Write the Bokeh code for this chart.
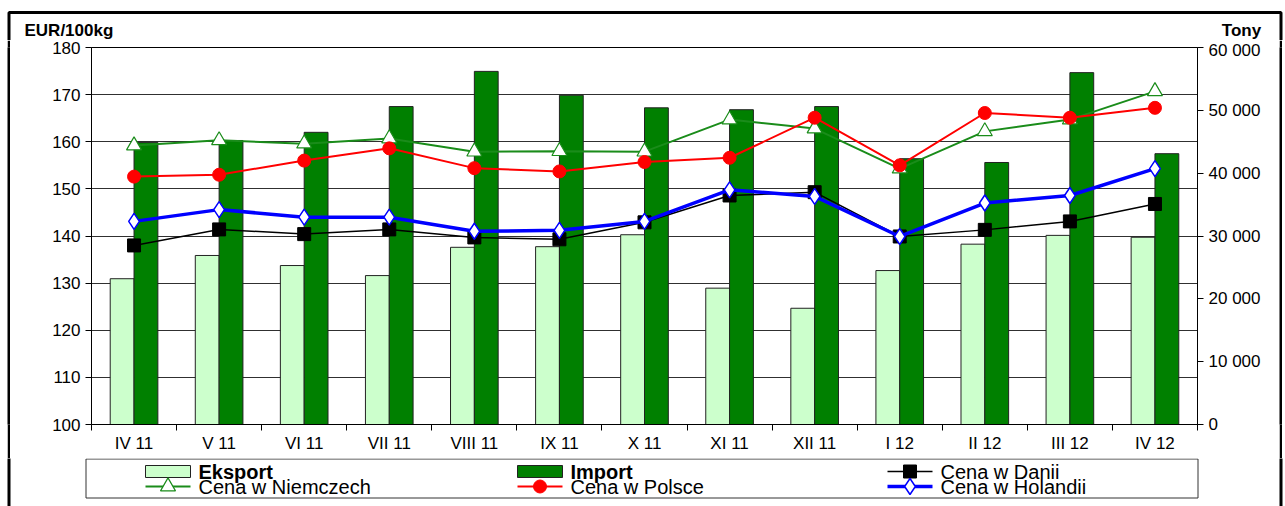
import numpy as np
from bokeh.plotting import figure
from bokeh.layouts import column, row
from bokeh.models import Range1d, LinearAxis, FixedTicker, Spacer
from bokeh.core.properties import value
from bokeh.embed import file_html
from bokeh.resources import INLINE

months = ["IV 11", "V 11", "VI 11", "VII 11", "VIII 11", "IX 11", "X 11",
          "XI 11", "XII 11", "I 12", "II 12", "III 12", "IV 12"]
eksport = [23200, 26900, 25300, 23700, 28200, 28300, 30200, 21700, 18500,
           24500, 28700, 30100, 29800]
importt = [44900, 45200, 46500, 50600, 56200, 52400, 50400, 50100, 50600,
           42300, 41700, 56000, 43100]
cena_dania = [138.0, 141.4, 140.4, 141.4, 139.7, 139.3, 142.9, 148.6, 149.3,
              139.9, 141.3, 143.1, 146.8]
cena_niemcy = [159.2, 160.3, 159.6, 160.7, 157.9, 158.0, 157.9, 164.7, 162.8,
               154.3, 162.2, 164.7, 170.7]
cena_polska = [152.6, 153.0, 156.0, 158.6, 154.4, 153.7, 155.7, 156.6, 165.1,
               155.0, 166.1, 165.1, 167.2]
cena_holandia = [143.1, 145.6, 144.0, 144.0, 141.0, 141.2, 143.1, 149.8, 148.4,
                 139.9, 147.0, 148.6, 154.3]
left_ticks = [100, 110, 120, 130, 140, 150, 160, 170, 180]
right_ticks = [0, 10000, 20000, 30000, 40000, 50000, 60000]
right_labels = ["0", "10 000", "20 000", "30 000", "40 000", "50 000", "60 000"]
legend_row1 = ["Eksport", "Import", "Cena w Danii"]
legend_row2 = ["Cena w Niemczech", "Cena w Polsce", "Cena w Holandii"]

FONT = "Liberation Sans"
C_EXP = "#CCFFCC"
C_IMP = "#008000"
C_DE = "#1A8C1A"
C_PL = "#FF0000"
C_NL = "#0000FF"
W = 1285
BX_L = 8.5      # outer border, left line
BX_R = 1280.5   # outer border, right line
BORDER_W = 3
TICK_FS = "17px"


def blank(width, height, xr, yr):
    f = figure(width=width, height=height, output_backend="svg",
               toolbar_location=None, x_range=xr, y_range=yr,
               x_axis_type=None, y_axis_type=None, min_border=0)
    f.grid.visible = False
    f.outline_line_color = None
    return f


def black_strip(height):
    f = figure(width=3, height=height, output_backend="svg",
               toolbar_location=None, x_range=Range1d(0, 1),
               y_range=Range1d(0, 1), x_axis_type=None, y_axis_type=None,
               min_border=0, border_fill_color="black",
               background_fill_color="black")
    f.grid.visible = False
    f.outline_line_color = None
    return f


# ---------- header (axis titles + top of border) ----------
HDR_H = 40
hdr = blank(W, HDR_H, Range1d(0, W), Range1d(HDR_H, 0))
hdr.line([BX_L, BX_L, BX_R, BX_R], [HDR_H + 1, 12, 12, HDR_H + 1],
         line_color="black", line_width=BORDER_W)
hdr.text(x=[24], y=[30], text=["EUR/100kg"], text_font=value(FONT),
         text_font_size="17px", text_font_style="bold", text_baseline="middle",
         text_align="left", text_color="black")
hdr.text(x=[1241], y=[30], text=["Tony"], text_font=value(FONT),
         text_font_size="17px", text_font_style="bold", text_baseline="middle",
         text_align="center", text_color="black")

# ---------- main chart ----------
n = len(months)
xc = np.arange(n) + 0.5
MAIN_H = 418

p = figure(width=W - 24, height=MAIN_H, output_backend="svg",
           toolbar_location=None, x_range=Range1d(0, n),
           y_range=Range1d(100, 180),
           min_border_left=79, min_border_right=76, min_border_top=7,
           min_border_bottom=MAIN_H - 7 - 377)
p.extra_y_ranges = {"tons": Range1d(0, 60000)}
p.outline_line_color = "black"
p.outline_line_width = 1
p.xgrid.visible = False
p.ygrid.ticker = FixedTicker(ticks=left_ticks)
p.ygrid.grid_line_color = "#303030"
p.ygrid.grid_line_width = 1

ya = p.yaxis[0]
ya.ticker = FixedTicker(ticks=left_ticks)
ya.axis_line_color = "black"
ya.major_tick_out = 6
ya.major_tick_in = 0
ya.minor_tick_out = 0
ya.major_label_text_font = FONT
ya.major_label_text_font_size = TICK_FS
ya.major_label_text_color = "black"

xa = p.xaxis[0]
xa.ticker = FixedTicker(ticks=list(xc), minor_ticks=list(range(n + 1)))
xa.major_label_overrides = {float(x): m for x, m in zip(xc, months)}
xa.major_tick_out = 0
xa.major_tick_in = 0
xa.minor_tick_out = 6
xa.minor_tick_in = 0
xa.axis_line_color = "black"
xa.major_label_text_font = FONT
xa.major_label_text_font_size = TICK_FS
xa.major_label_text_color = "black"
xa.major_label_standoff = 3

ra = LinearAxis(y_range_name="tons", ticker=FixedTicker(ticks=right_ticks),
                major_label_overrides={t: l for t, l in zip(right_ticks, right_labels)})
ra.major_tick_out = 6
ra.major_tick_in = 0
ra.minor_tick_out = 0
ra.axis_line_color = "black"
ra.major_label_text_font = FONT
ra.major_label_text_font_size = TICK_FS
ra.major_label_text_color = "black"
p.add_layout(ra, "right")

p.vbar(x=xc - 0.14, top=eksport, bottom=0, width=0.28, y_range_name="tons",
       fill_color=C_EXP, line_color="#222222", line_width=1)
p.vbar(x=xc + 0.14, top=importt, bottom=0, width=0.28, y_range_name="tons",
       fill_color=C_IMP, line_color="#222222", line_width=1)

p.line(xc, cena_dania, line_color="black", line_width=1.5)
p.scatter(xc, cena_dania, marker="square", size=13, fill_color="black",
          line_color="black")
p.line(xc, cena_niemcy, line_color=C_DE, line_width=2)
p.scatter(xc, cena_niemcy, marker="triangle", size=15, fill_color="white",
          line_color=C_DE, line_width=1.2)
p.line(xc, cena_polska, line_color=C_PL, line_width=2)
p.scatter(xc, cena_polska, marker="circle", size=13, fill_color=C_PL,
          line_color=C_PL)
p.line(xc, cena_holandia, line_color=C_NL, line_width=3.5)
p.scatter(xc, cena_holandia, marker="diamond", size=16, fill_color="white",
          line_color=C_NL, line_width=1.5)

mid = row(Spacer(width=7, height=MAIN_H), black_strip(MAIN_H),
          Spacer(width=2, height=MAIN_H), p,
          Spacer(width=6, height=MAIN_H), black_strip(MAIN_H),
          Spacer(width=3, height=MAIN_H))

# ---------- legend ----------
LEG_TOP = HDR_H + MAIN_H
leg = blank(W, 506 - LEG_TOP, Range1d(0, W), Range1d(506, LEG_TOP))
leg.line([BX_L, BX_L], [LEG_TOP - 1, 510], line_color="black", line_width=BORDER_W)
leg.line([BX_R, BX_R], [LEG_TOP - 1, 510], line_color="black", line_width=BORDER_W)
leg.quad(left=[85.5], right=[1197.5], top=[458.5], bottom=[497.5],
         fill_color=None, line_color="#333333", line_width=1)

col_x = [145, 517, 887]
row_y = [471, 486]
sw = 45
# row 1 samples
leg.quad(left=[col_x[0], col_x[1]], right=[col_x[0] + sw, col_x[1] + sw],
         top=[row_y[0] - 6, row_y[0] - 6], bottom=[row_y[0] + 6, row_y[0] + 6],
         fill_color=[C_EXP, C_IMP], line_color="#222222", line_width=1)
leg.line([col_x[2], col_x[2] + sw], [row_y[0], row_y[0]], line_color="black",
         line_width=1.5)
leg.scatter([col_x[2] + sw / 2], [row_y[0]], marker="square", size=13,
            fill_color="black", line_color="black")
# row 2 samples
leg.line([col_x[0], col_x[0] + sw], [row_y[1], row_y[1]], line_color=C_DE,
         line_width=2)
leg.scatter([col_x[0] + sw / 2], [row_y[1]], marker="triangle", size=15,
            fill_color="white", line_color=C_DE, line_width=1.2)
leg.line([col_x[1], col_x[1] + sw], [row_y[1], row_y[1]], line_color=C_PL,
         line_width=2)
leg.scatter([col_x[1] + sw / 2], [row_y[1]], marker="circle", size=13,
            fill_color=C_PL, line_color=C_PL)
leg.line([col_x[2], col_x[2] + sw], [row_y[1], row_y[1]], line_color=C_NL,
         line_width=3.5)
leg.scatter([col_x[2] + sw / 2], [row_y[1]], marker="diamond", size=16,
            fill_color="white", line_color=C_NL, line_width=1.5)

LEG_FS = "20px"
tx = [c + sw + 8 for c in col_x]
leg.text(x=tx[:2], y=[row_y[0]] * 2, text=legend_row1[:2], text_font=value(FONT),
         text_font_size=LEG_FS, text_font_style="bold", text_baseline="middle",
         text_color="black")
leg.text(x=tx[2:], y=[row_y[0]], text=legend_row1[2:], text_font=value(FONT),
         text_font_size=LEG_FS, text_baseline="middle", text_color="black")
leg.text(x=tx, y=[row_y[1]] * 3, text=legend_row2, text_font=value(FONT),
         text_font_size=LEG_FS, text_baseline="middle", text_color="black")

layout = column(hdr, mid, leg)

open("out.html", "w").write(file_html(layout, INLINE))
